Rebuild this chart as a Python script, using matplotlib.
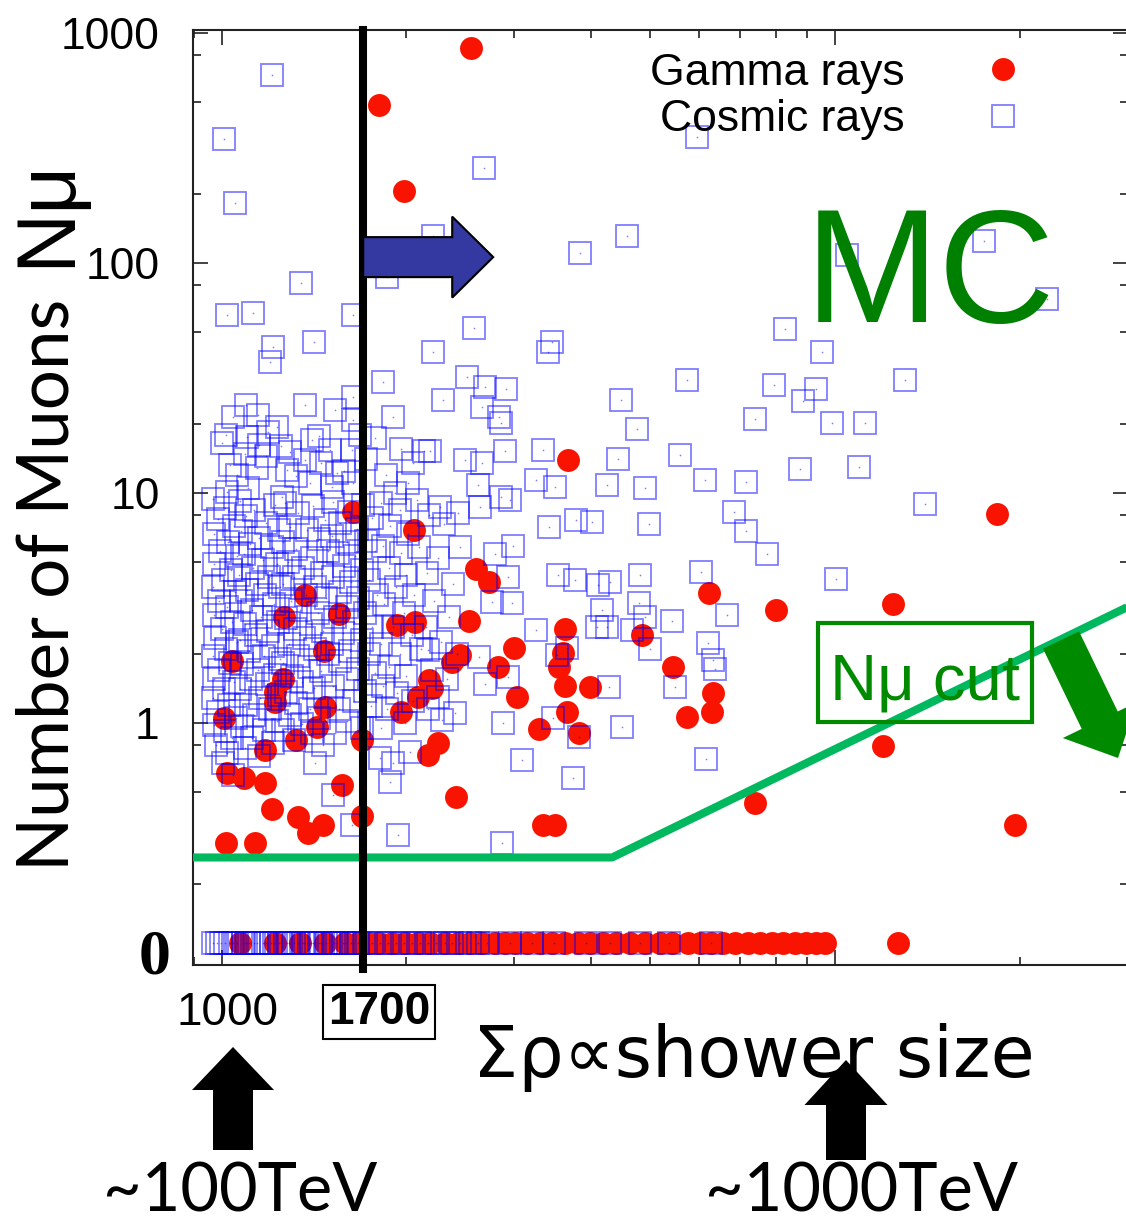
import matplotlib.pyplot as plt
from matplotlib.patches import FancyArrow, Rectangle
from matplotlib.ticker import FixedLocator, LogLocator, NullFormatter

plt.rcParams['font.family'] = ['Liberation Sans', 'DejaVu Sans']

# gamma-ray showers with at least one muon: sum of densities and muon number
gamma_rho = [
    2548, 1804, 1981, 3667, 1636, 2057, 18380, 2597, 2726, 6223,
    8000, 12455, 1366, 1262, 1552, 1930, 2065, 2528, 3626, 4840,
    1467, 1038, 2994, 3599, 2445, 2372, 2820, 3545, 5438, 1258,
    2178, 3626, 3982, 2204, 6317, 1221, 1221, 2088, 3028, 1472,
    1958, 6293, 3653, 5730, 1008, 1429, 3289, 3822, 1321, 1692,
    2251, 11996, 1176, 2168, 1019, 1086, 1176, 1570, 2409, 7395,
    1207, 1331, 1692, 1461, 1381, 3338, 3492, 19665, 1015, 1132,
]
gamma_nmu = [
    861, 486, 206, 13.9, 8.3, 6.9, 8.1, 4.68, 4.1, 3.68,
    3.1, 3.3, 3.6, 2.89, 2.98, 2.67, 2.74, 2.77, 2.56, 2.41,
    2.06, 1.86, 2.12, 2.02, 1.98, 1.84, 1.75, 1.75, 1.75, 1.55,
    1.54, 1.45, 1.43, 1.42, 1.35, 1.36, 1.23, 1.30, 1.30, 1.17,
    1.11, 1.12, 1.12, 1.06, 1.05, 0.96, 0.94, 0.90, 0.844, 0.844,
    0.82, 0.79, 0.76, 0.726, 0.606, 0.577, 0.549, 0.538, 0.477, 0.449,
    0.423, 0.39, 0.394, 0.36, 0.333, 0.36, 0.36, 0.36, 0.301, 0.301,
]

# cosmic-ray showers, outer part of the distribution
cosmic_rho_outer = [
    1206, 1008, 1050, 2676, 1346, 5950, 3836, 4576, 2209, 1859,
    17505, 22150, 10460, 2577, 2209, 3453, 3401, 2509, 2686, 2906,
    2293, 2655, 2830, 2852, 5730, 4474, 4749, 5582, 6131, 4424,
    3338, 2895, 2136, 2184, 2490, 2655, 4245, 4896, 3492, 3256,
    2616, 2011, 2852, 2949, 3414, 3779, 4012, 4970, 2635, 2427,
    2268, 2982, 2789, 2445, 8276, 9542, 7940, 9297, 8854, 7395,
    9906, 11211, 13027, 8754, 10963, 7150, 6835, 7150, 7736, 14002,
    10020, 6050, 6658, 3531, 3764, 4104, 4293, 4804, 2927, 2757,
    2971, 4166, 4786, 4896, 5417, 3256, 4089, 4245, 4663, 4988,
    3653, 3518, 6200, 6317, 6365, 2625, 2168, 2686, 2927, 4277,
    5479, 3466, 3822, 2873, 4491, 2285, 2026, 3085, 3737, 6154,
    2862, 1940, 1004, 1042, 1418, 1515, 1630, 1901, 1880, 1810,
    1019, 1124, 1636, 1211, 1198, 1413, 1831, 1094, 1042, 1145,
    1230, 1189, 1366, 1529, 1636, 1636, 1901, 1777, 1090, 1030,
    1141, 1277, 1366, 1500, 1630, 1540, 1019, 1102, 1253, 1392,
    1511, 1636, 1915,
]
cosmic_nmu_outer = [
    657, 346, 182, 259, 82, 353, 111, 131, 131, 87,
    125, 70, 108, 52, 41, 45.4, 41, 32, 29, 28.3,
    25.4, 23.7, 21.4, 20.2, 31, 25.4, 19, 14.6, 11.4, 14,
    15.4, 15.2, 15.2, 15.2, 13.9, 13.5, 10.8, 10.5, 10.6, 11.4,
    10.8, 11.1, 9.6, 9.3, 7.1, 7.6, 7.5, 7.3, 8.7, 8.2,
    8.7, 5.9, 5.4, 5.8, 51.8, 41, 29.5, 28.3, 25, 21,
    20.2, 20.2, 31, 12.7, 12.9, 11.2, 8.3, 6.8, 5.4, 8.95,
    4.23, 4.53, 2.95, 4.40, 4.19, 3.98, 4.1, 4.40, 4.31, 3.36,
    3.33, 3.10, 3.33, 2.89, 2.77, 2.54, 2.6, 2.62, 2.54, 2.10,
    2.12, 1.98, 2.23, 1.88, 1.72, 1.94, 2.08, 1.48, 1.59, 1.43,
    1.43, 1.05, 0.87, 1.0, 0.96, 1.03, 0.75, 0.69, 0.577, 0.70,
    0.301, 0.326, 0.67, 0.594, 0.67, 0.486, 0.36, 0.67, 0.552, 0.704,
    59.4, 60.6, 59.4, 43.1, 37.1, 45.4, 30.4, 24.1, 21.4, 21.8,
    19.4, 18.4, 24.1, 22.9, 26.1, 20.8, 21.4, 17.3, 14.8, 13.2,
    12.8, 12.6, 13.9, 15.4, 15.4, 12.2, 10.1, 10.5, 9.6, 11.0,
    10.6, 11.1, 10.0,
]

# cosmic-ray showers, dense core near threshold
cosmic_rho_core = [
    968, 1012, 985, 1046, 970, 1024, 992, 1058, 972, 1035,
    1004, 967, 1050, 988, 1020, 970, 1040, 1000, 975, 1060,
    1015, 968, 1032, 990, 972, 1048, 1008, 966, 1026, 985,
    1055, 970, 1010, 1040, 978, 1020,
    1070, 1130, 1095, 1180, 1222, 1075, 1150, 1110, 1205, 1240,
    1085, 1165, 1125, 1230, 1068, 1195, 1140, 1100, 1245, 1175,
    1075, 1215, 1120, 1160, 1090, 1235, 1190, 1135, 1070, 1210,
    1105, 1170, 1245, 1080, 1145, 1220, 1115, 1185, 1072, 1240,
    1155, 1095, 1200, 1130, 1230, 1080, 1170, 1120, 1210, 1090,
    1150,
    1265, 1330, 1410, 1470, 1290, 1375, 1440, 1260, 1320, 1490,
    1400, 1280, 1355, 1455, 1310, 1260, 1420, 1370, 1480, 1295,
    1340, 1435, 1270, 1395, 1315, 1460, 1360, 1285, 1420, 1490,
    1330, 1260, 1385, 1450, 1300, 1350, 1415, 1270, 1470, 1320,
    1390, 1290, 1440, 1350, 1260, 1400, 1310, 1460,
    1520, 1610, 1700, 1560, 1660, 1760, 1510, 1600, 1720, 1545,
    1650, 1780, 1580, 1690, 1520, 1625, 1740, 1560, 1670, 1790,
    1600, 1710, 1530, 1640, 1760, 1575, 1690, 1510, 1620, 1740,
    1560, 1665, 1780, 1600, 1520, 1710, 1640, 1550, 1750, 1600,
    1690, 1530,
    1820, 1950, 2080, 1880, 2010, 1830, 1960, 2100, 1870, 2000,
    1920, 2060, 1840, 1980, 1900, 2040, 1820, 1950, 2110, 1870,
    2000, 1830, 1930, 2050, 1860, 1990, 1820,
    2180, 2300, 2250, 2160, 2380, 2220, 2350, 2150, 2280, 2420,
    2200, 2330, 2250, 2170, 2400,
    1000, 1060, 1180, 1320, 1450, 1580, 1720, 1850, 1960, 1100,
    1250, 1400, 1680, 2050, 1015, 1150, 1290, 1440,
]
cosmic_nmu_core = [
    9.4, 8.6, 7.7, 7.2, 6.6, 6.1, 5.6, 5.3, 4.9, 4.6,
    4.2, 3.9, 3.7, 3.4, 3.2, 2.95, 2.75, 2.55, 2.35, 2.25,
    2.1, 1.95, 1.82, 1.7, 1.55, 1.5, 1.4, 1.28, 1.2, 1.12,
    1.05, 0.98, 0.92, 0.86, 0.8, 0.74,
    9.2, 8.4, 7.9, 7.4, 8.9, 6.8, 6.4, 6.0, 5.8, 6.9,
    5.4, 5.1, 4.7, 4.9, 4.4, 4.3, 4.0, 3.8, 3.9, 3.6,
    3.4, 3.3, 3.1, 2.9, 2.7, 2.75, 2.5, 2.4, 2.3, 2.15,
    2.05, 1.95, 1.9, 1.8, 1.7, 1.62, 1.55, 1.48, 1.4, 1.32,
    1.28, 1.2, 1.15, 1.08, 1.02, 0.97, 0.93, 0.86, 0.82, 0.78,
    0.72,
    9.0, 8.2, 8.8, 7.6, 7.1, 6.9, 6.3, 6.1, 5.7, 5.6,
    5.2, 5.0, 4.7, 4.5, 4.3, 4.0, 3.9, 3.6, 3.5, 3.4,
    3.1, 3.0, 2.85, 2.7, 2.55, 2.5, 2.35, 2.2, 2.1, 2.0,
    1.95, 1.82, 1.75, 1.68, 1.6, 1.5, 1.42, 1.36, 1.3, 1.22,
    1.15, 1.08, 1.05, 0.99, 0.93, 0.9, 0.84, 0.8,
    9.1, 8.3, 8.9, 7.4, 7.0, 7.8, 6.5, 6.1, 6.2, 5.5,
    5.3, 5.6, 4.8, 4.6, 4.3, 4.1, 4.2, 3.7, 3.5, 3.6,
    3.2, 3.0, 2.9, 2.75, 2.6, 2.45, 2.3, 2.2, 2.05, 2.0,
    1.85, 1.72, 1.65, 1.55, 1.45, 1.38, 1.25, 1.15, 1.18, 1.02,
    0.95, 0.9,
    9.0, 8.4, 9.3, 7.2, 6.6, 5.9, 5.5, 5.8, 4.7, 4.4,
    3.9, 3.6, 3.3, 3.0, 2.6, 2.4, 2.2, 2.0, 2.1, 1.75,
    1.6, 1.45, 1.35, 1.25, 1.15, 1.0, 0.95,
    8.0, 7.3, 5.2, 4.5, 4.0, 3.4, 2.9, 2.6, 2.25, 2.0,
    1.7, 1.55, 1.3, 1.15, 1.1,
    16.5, 12.0, 14.5, 11.8, 13.5, 12.5, 14.0, 12.0, 15.5, 17.5,
    16.0, 17.0, 17.8, 13.5, 17.8, 16.2, 15.0, 17.6,
]

# showers without any muon (N_mu = 0), drawn on the "0" row
gamma_rho_nomu = [
    1070, 1220, 1340, 1472, 1588, 1667, 1731, 1797, 1894, 1988,
    2088, 2184, 2311, 2427, 2538, 2655, 2789, 2895, 3005, 3144,
    3301, 3453, 3626, 3807, 3982, 4182, 4391, 4628, 4896, 5178,
    5417, 5752, 6016, 6270, 6558, 6861, 7203, 7535, 7882, 8214,
    8593, 8954, 9297, 9650, 12690,
]
cosmic_rho_nomu = [
    968, 981, 997, 1012, 1031, 1044, 1060, 1081, 1093, 1108,
    1130, 1142, 1165, 1178, 1201, 1214, 1237, 1250, 1275, 1288,
    1313, 1329, 1354, 1368, 1395, 1410, 1438, 1452, 1481, 1497,
    1526, 1543, 1574, 1590, 1621, 1638, 1664, 1705, 1757, 1810,
    1866, 1922, 1981, 2041, 2104, 2168, 2234, 2311, 2372, 2445,
    2538, 2616, 2706, 2949, 3203, 3479, 3923, 4293, 4804, 5357,
    6270,
]

# muon cut: flat at low shower size, then rising
cut_rho = [897, 4330, 30060]
cut_nmu = [0.26, 0.26, 3.2]

rho_threshold = 1700
zero_row = 0.11

RED = '#f81400'
SQUARE_EDGE = (0.0, 0.0, 1.0, 0.5)
CUT_GREEN = '#00b85e'
LABEL_GREEN = '#008a00'
W, H = 1126, 1222

cosmic_rho = cosmic_rho_outer + cosmic_rho_core
cosmic_nmu = cosmic_nmu_outer + cosmic_nmu_core

fig = plt.figure(figsize=(W / 100, H / 100), dpi=100)
ax = fig.add_axes([193 / W, 257 / H, 935 / W, 935 / H])
ax.set_xscale('log')
ax.set_yscale('log')
ax.set_xlim(897, 30060)
ax.set_ylim(0.0886, 1030)

dot = dict(marker='o', ms=16.5, color=RED, mec='none', ls='none')
box = dict(marker='s', ms=16, mfc='none', mec=SQUARE_EDGE, mew=1.3, ls='none')

ax.plot(gamma_rho, gamma_nmu, label='Gamma rays', zorder=2, **dot)
ax.plot(gamma_rho_nomu, [zero_row] * len(gamma_rho_nomu), zorder=2, **dot)
ax.plot(cosmic_rho, cosmic_nmu, label='Cosmic rays', zorder=3, **box)
ax.plot(cosmic_rho_nomu, [zero_row] * len(cosmic_rho_nomu), zorder=3, **box)
# gnuplot-style centre point of each square
ax.plot(cosmic_rho + cosmic_rho_nomu,
        cosmic_nmu + [zero_row] * len(cosmic_rho_nomu),
        'o', ms=1.2, color=SQUARE_EDGE, mec='none', zorder=3)

ax.plot(cut_rho, cut_nmu, color=CUT_GREEN, lw=5.8, solid_capstyle='butt',
        zorder=4, clip_on=True)
ax.axvline(rho_threshold, ymin=-0.004, color='black', lw=5.8, zorder=5,
           clip_on=False)

# ticks: decades labelled on y only, gnuplot-like inward ticks all round
ax.yaxis.set_major_locator(FixedLocator([1, 10, 100, 1000]))
ax.set_yticklabels(['1', '10', '100', '1000'])
ax.yaxis.set_minor_locator(FixedLocator(
    [m * 10.0 ** e for e in range(-1, 3) for m in (2, 5, 8)]))
ax.yaxis.set_minor_formatter(NullFormatter())
ax.xaxis.set_major_locator(FixedLocator([1000, 10000]))
ax.xaxis.set_minor_locator(LogLocator(base=10, subs=range(2, 10)))
ax.xaxis.set_major_formatter(NullFormatter())
ax.xaxis.set_minor_formatter(NullFormatter())
ax.tick_params(which='both', direction='in', top=True, right=True,
               color='#222222', width=1.2)
ax.tick_params(which='major', length=11, labelsize=32, pad=24)
ax.tick_params(which='minor', length=6)
for spine in ax.spines.values():
    spine.set_linewidth(1.5)
    spine.set_color('#222222')

ax.legend(loc='upper right', bbox_to_anchor=(1025 / W, 1 - 53 / H),
          bbox_transform=fig.transFigure, markerfirst=False, frameon=False,
          fontsize=32, numpoints=1, handlelength=1.0, handletextpad=1.7,
          labelspacing=0.12, borderpad=0, borderaxespad=0)

# overlay in image pixels (origin top-left) for arrows and free text
ov = fig.add_axes([0, 0, 1, 1], zorder=5)
ov.set_xlim(0, W)
ov.set_ylim(H, 0)
ov.axis('off')
ov.patch.set_visible(False)


def data_to_px(x, y):
    dx, dy = ax.transData.transform((x, y))
    return dx, H - dy


x0, y0 = data_to_px(rho_threshold, 106)
ov.add_patch(FancyArrow(x0, y0, 130, 0, width=40, head_width=81,
                        head_length=41, length_includes_head=True,
                        fc='#3339a0', ec='black', lw=1.5))

ov.text(805, 322, 'MC', color='#008000', fontsize=116, ha='left',
        va='baseline')

ov.add_patch(Rectangle((818, 623), 214, 99, fill=False, ec=LABEL_GREEN,
                       lw=3))
ov.text(925, 699, 'N\u03bc cut', color=LABEL_GREEN, fontsize=47,
        ha='center', va='baseline')
ov.add_patch(FancyArrow(1061, 640, 57, 118, width=40, head_width=82,
                        head_length=42, length_includes_head=True,
                        fc=LABEL_GREEN, ec='none'))

# axis texts
ov.text(155, 958, '0', family=['Liberation Serif'], fontweight='bold',
        fontsize=46, ha='center', va='center')
ov.text(48, 585, 'Number of Muons', rotation=90, ha='center', va='center',
        fontsize=51, family=['Lato', 'DejaVu Sans'])
ov.text(47, 213, 'N\u03bc', rotation=90, ha='center', va='center',
        fontsize=60)

ov.text(228, 1013, '1000', fontsize=33, ha='center', va='center')
ov.text(379, 1012, '1700', fontsize=33, fontweight='bold', ha='center',
        va='center', bbox=dict(boxstyle='square,pad=0.1', fc='white',
                               ec='black', lw=1.5))
ov.text(473, 1077, '\u03a3\u03c1\u221dshower size', fontsize=51.5,
        ha='left', va='baseline', family=['DejaVu Sans'])

ov.add_patch(FancyArrow(233, 1150, 0, -103, width=40, head_width=82,
                        head_length=43, length_includes_head=True,
                        fc='black', ec='none'))
ov.add_patch(FancyArrow(846, 1160, 0, -100, width=40, head_width=83,
                        head_length=45, length_includes_head=True,
                        fc='black', ec='none'))
ov.text(103, 1211, '~100TeV', fontsize=48, ha='left', va='baseline',
        family=['Lato', 'DejaVu Sans'])
ov.text(705, 1211, '~1000TeV', fontsize=48, ha='left', va='baseline',
        family=['Lato', 'DejaVu Sans'])

fig.savefig('out.png', dpi=100, facecolor='white')
